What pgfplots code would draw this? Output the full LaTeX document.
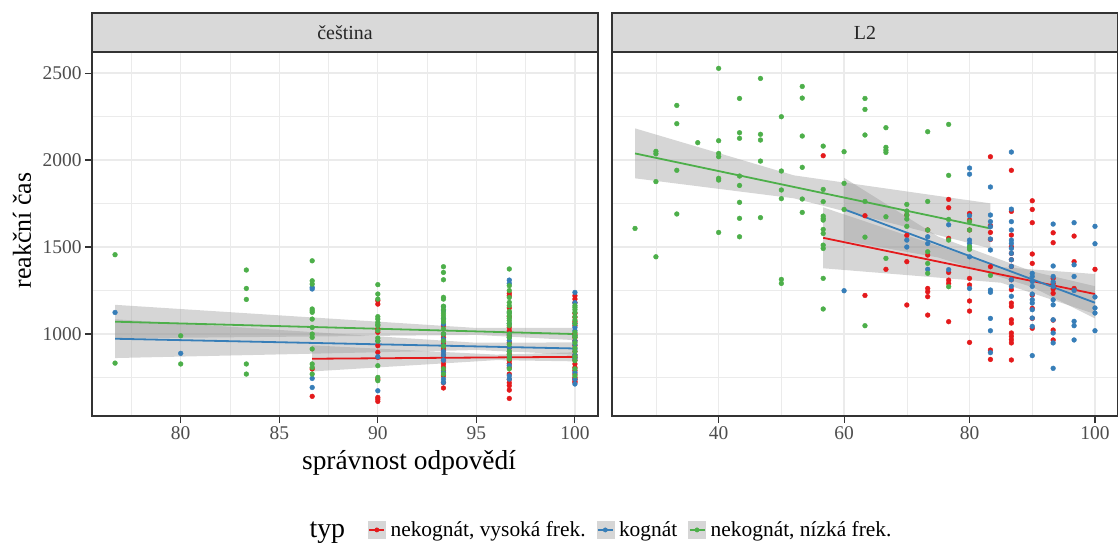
\documentclass[border=0pt]{standalone}
\usepackage{fontspec}
\setmainfont{Liberation Serif}
\usepackage{pgfplots}
\pgfplotsset{compat=1.18}
\definecolor{cR}{HTML}{E41A1C}
\definecolor{cB}{HTML}{377EB8}
\definecolor{cG}{HTML}{4DAF4A}
\definecolor{gridc}{HTML}{EBEBEB}
\definecolor{framec}{HTML}{333333}
\definecolor{tickc}{HTML}{4D4D4D}
\definecolor{stripc}{HTML}{D9D9D9}
\definecolor{bandc}{HTML}{999999}
\definecolor{keybg}{HTML}{D6D6D6}
\newcommand\ft[1]{\fontsize{#1}{#1}\selectfont}
\pgfplotsset{
 panel/.style={
  scale only axis, width=506bp, height=364bp,
  ymin=529, ymax=2621,
  ytick={1000,1500,2000,2500},
  minor ytick={750,1250,1750,2250},
  grid=both,
  major grid style={gridc, line width=1.2bp},
  minor grid style={gridc, line width=0.6bp},
  axis line style={framec, line width=1.1bp},
  tick style={framec, line width=1.1bp},
  major tick length=7bp, minor tick length=0pt,
  tick align=outside,
  xtick pos=bottom, ytick pos=left,
  ticklabel style={font=\ft{19.5}, text=tickc},
  /pgf/number format/assume math mode=true,
  /pgf/number format/1000 sep={},
 },
 pt/.style={only marks, mark=*, mark size=2.4bp, color=#1, mark options={draw=none, fill=#1}},
 bd/.style={draw=none, fill=bandc, fill opacity=0.4},
 fit/.style={color=#1, line width=1.8bp, no marks},
 key/.style={legend image code/.code={
   \fill[keybg] (0bp,-8.5bp) rectangle (17bp,8.5bp);
   \draw[#1, line width=1.5bp] (1bp,0bp) -- (16bp,0bp);
   \fill[#1] (8.5bp,0bp) circle (2.2bp);}},
}
\begin{document}
\begin{tikzpicture}
\useasboundingbox (0,0) rectangle (1118bp,543bp);
% ---------------- left panel
\begin{axis}[panel, name=L, at={(92bp,127bp)}, anchor=south west,
  xmin=75.5, xmax=101.17,
  xtick={80,85,90,95,100}, minor xtick={77.5,82.5,87.5,92.5,97.5},
  xlabel={správnost odpovědí}, ylabel={reakční čas},
  xlabel style={font=\ft{27.5}, at={(axis description cs:0.6265,-0.129)}, anchor=center},
  ylabel style={font=\ft{26}, at={(axis description cs:-0.1383,0.51)}, anchor=center},
  legend style={at={(axis description cs:1.002,-0.313)}, anchor=center, draw=none, fill=none,
    legend columns=4, font=\ft{21.5}, cells={anchor=west},
    /tikz/every odd column/.append style={column sep=3bp},
    /tikz/every even column/.append style={column sep=9bp}},
]
\addlegendimage{empty legend}\addlegendentry{\ft{28}typ\hspace*{12bp}}
\addlegendimage{key=cR}\addlegendentry{nekognát, vysoká frek.}
\addlegendimage{key=cB}\addlegendentry{kognát}
\addlegendimage{key=cG}\addlegendentry{nekognát, nízká frek.}
\addplot[pt=cR, forget plot] coordinates {
(86.67,799)(86.67,642)
(90,1192)(90,1172)(90,1029)(90,1010)(90,933)(90,895)(90,866)(90,741)(90,636)(90,626)(90,613)
(93.33,1048)(93.33,1000)(93.33,981)(93.33,962)(93.33,943)(93.33,920)(93.33,904)(93.33,880)(93.33,866)(93.33,850)(93.33,828)(93.33,810)(93.33,789)(93.33,760)(93.33,720)(93.33,690)
(96.67,1234)(96.67,1220)(96.67,1150)(96.67,1100)(96.67,1038)(96.67,1019)(96.67,990)(96.67,950)(96.67,920)(96.67,885)(96.67,860)(96.67,847)(96.67,830)(96.67,808)(96.67,770)(96.67,740)(96.67,720)(96.67,703)(96.67,678)(96.67,630)
(100,1220)(100,1201)(100,1180)(100,1119)(100,1096)(100,1070)(100,1048)(100,1000)(100,980)(100,962)(100,933)(100,900)(100,880)(100,866)(100,850)(100,828)(100,808)(100,790)(100,770)(100,750)(100,741)(100,730)(100,722)
};
\addplot[pt=cB, forget plot] coordinates {
(76.67,1124)(80,889)(86.67,1268)(86.67,1259)(86.67,745)(86.67,693)(90,960)(90,870)(90,674)
(93.33,1157)(93.33,1134)(93.33,1090)(93.33,1057)(93.33,1000)(93.33,970)(93.33,933)(93.33,900)(93.33,880)(93.33,850)(93.33,780)(93.33,741)(93.33,722)
(96.67,1310)(96.67,1291)(96.67,1124)(96.67,1060)(96.67,1000)(96.67,980)(96.67,962)(96.67,923)(96.67,900)(96.67,870)(96.67,820)(96.67,760)(96.67,741)
(100,1239)(100,1180)(100,1060)(100,1038)(100,1019)(100,990)(100,960)(100,940)(100,914)(100,880)(100,860)(100,780)(100,740)(100,713)
};
\addplot[pt=cG, forget plot] coordinates {
(76.67,1456)(76.67,833)(80,990)(80,828)(83.33,1368)(83.33,1262)(83.33,1199)(83.33,828)(83.33,770)
(86.67,1421)(86.67,1306)(86.67,1287)(86.67,1144)(86.67,1134)(86.67,1125)(86.67,1086)(86.67,1038)(86.67,1000)(86.67,981)(86.67,914)(86.67,828)(86.67,808)(86.67,770)
(90,1284)(90,1230)(90,1201)(90,1100)(90,1086)(90,1067)(90,1055)(90,1048)(90,1020)(90,977)(90,960)(90,818)(90,751)(90,732)
(93.33,1387)(93.33,1354)(93.33,1312)(93.33,1211)(93.33,1201)(93.33,1160)(93.33,1140)(93.33,1120)(93.33,1105)(93.33,1086)(93.33,1070)(93.33,1029)(93.33,1000)(93.33,960)(93.33,930)(93.33,800)(93.33,770)
(96.67,1374)(96.67,1278)(96.67,1250)(96.67,1210)(96.67,1182)(96.67,1163)(96.67,1130)(96.67,1120)(96.67,1105)(96.67,1090)(96.67,1077)(96.67,1060)(96.67,1048)(96.67,1000)(96.67,980)(96.67,940)(96.67,900)(96.67,880)(96.67,856)(96.67,800)
(100,1163)(100,1153)(100,1140)(100,1124)(100,1100)(100,1080)(100,1060)(100,1010)(100,990)(100,981)(100,950)(100,920)(100,900)(100,870)(100,847)(100,800)(100,760)
};
% bands
\addplot[bd, forget plot] coordinates {(86.67,935)(96,882)(100,895)(100,843)(96,850)(86.67,785)};
\addplot[bd, forget plot] coordinates {(76.67,1085)(95,950)(100,952)(100,882)(95,908)(76.67,862)};
\addplot[bd, forget plot] coordinates {(76.67,1168)(95,1035)(100,1035)(100,965)(95,995)(76.67,975)};
\addplot[fit=cR, forget plot] coordinates {(86.67,858)(100,869)};
\addplot[fit=cB, forget plot] coordinates {(76.67,973)(100,917)};
\addplot[fit=cG, forget plot] coordinates {(76.67,1071)(100,1000)};
\end{axis}
% ---------------- right panel
\begin{axis}[panel, name=R, at={(612bp,127bp)}, anchor=south west,
  xmin=23.0, xmax=103.67,
  xtick={40,60,80,100}, minor xtick={30,50,70,90},
  yticklabels={}, ytick style={draw=none},
]
\addplot[pt=cR] coordinates {
(56.67,2025)(63.33,1680)(63.33,1222)(66.67,1372)(70,1684)(70,1567)(70,1416)(70,1167)
(73.33,1598)(73.33,1454)(73.33,1262)(73.33,1243)(73.33,1215)(73.33,1109)
(76.67,1774)(76.67,1726)(76.67,1550)(76.67,1354)(76.67,1310)(76.67,1291)(76.67,1071)
(80,1693)(80,1655)(80,1598)(80,1320)(80,1282)(80,1190)(80,1132)(80,952)
(83.33,2019)(83.33,1623)(83.33,1584)(83.33,1544)(83.33,1387)(83.33,908)(83.33,854)
(86.67,1941)(86.67,1705)(86.67,1569)(86.67,1502)(86.67,1464)(86.67,1427)(86.67,1389)(86.67,1312)(86.67,1255)(86.67,1178)(86.67,1159)(86.67,1082)(86.67,1063)(86.67,1006)(86.67,987)(86.67,968)(86.67,949)(86.67,851)
(90,1766)(90,1716)(90,1640)(90,1460)(90,1406)(90,1224)(90,1148)(90,1090)(90,1033)
(93.33,1582)(93.33,1525)(93.33,1320)(93.33,1290)(93.33,1260)(93.33,1234)(93.33,1080)(93.33,1023)(93.33,966)
(96.67,1563)(96.67,1416)(96.67,1262)(100,1372)
};
\addplot[pt=cB] coordinates {
(60,1249)(70,1540)(70,1500)(73.33,1559)(73.33,1520)(73.33,1372)(76.67,1628)(76.67,1370)
(80,1954)(80,1919)(80,1680)(80,1540)(80,1521)(80,1500)(80,1444)(80,1262)
(83.33,1845)(83.33,1684)(83.33,1646)(83.33,1617)(83.33,1546)(83.33,1483)(83.33,1253)(83.33,1240)(83.33,1090)(83.33,1019)(83.33,893)
(86.67,2046)(86.67,1718)(86.67,1646)(86.67,1598)(86.67,1540)(86.67,1521)(86.67,1492)(86.67,1464)(86.67,1427)(86.67,1389)(86.67,1312)(86.67,1274)(86.67,1217)
(90,1349)(90,1331)(90,1302)(90,1274)(90,1230)(90,1197)(90,1178)(90,1140)(90,1092)(90,1044)(90,876)
(93.33,1632)(93.33,1391)(93.33,1331)(93.33,1300)(93.33,1274)(93.33,1197)(93.33,1168)(93.33,1082)(93.33,1006)(93.33,949)(93.33,803)
(96.67,1640)(96.67,1398)(96.67,1331)(96.67,1250)(96.67,1073)(96.67,1048)(96.67,966)
(100,1619)(100,1519)(100,1213)(100,1150)(100,1121)(100,1019)
};
\addplot[pt=cG] coordinates {
(26.67,1607)(30,2050)(30,2036)(30,1876)(30,1444)(33.33,2314)(33.33,2209)(33.33,1941)(33.33,1690)(36.67,2100)
(40,2527)(40,2111)(40,2038)(40,2019)(40,1895)(40,1885)(40,1584)
(43.33,2354)(43.33,2157)(43.33,2125)(43.33,1908)(43.33,1854)(43.33,1757)(43.33,1665)(43.33,1559)
(46.67,2469)(46.67,2148)(46.67,2115)(46.67,1994)(46.67,1669)
(50,2249)(50,1937)(50,1828)(50,1778)(50,1314)(50,1291)
(53.33,2423)(53.33,2356)(53.33,2138)(53.33,1958)(53.33,1776)(53.33,1699)
(56.67,2080)(56.67,1831)(56.67,1761)(56.67,1678)(56.67,1665)(56.67,1655)(56.67,1601)(56.67,1578)(56.67,1511)(56.67,1492)(56.67,1320)(56.67,1144)
(60,2048)(60,1866)(60,1716)
(63.33,2354)(63.33,2291)(63.33,2144)(63.33,1762)(63.33,1557)(63.33,1048)
(66.67,2186)(66.67,2073)(66.67,2057)(66.67,2044)(66.67,1674)(66.67,1435)
(70,1745)(70,1707)(70,1684)(70,1661)(70,1619)
(73.33,2163)(73.33,1762)(73.33,1598)(73.33,1473)(73.33,1406)(73.33,1349)
(76.67,2205)(76.67,1912)(76.67,1659)(76.67,1540)(76.67,1272)
(80,1646)(80,1598)(80,1502)(80,1487)
(83.33,1337)
};
\addplot[bd] coordinates {(56.67,1728)(85,1385)(100,1345)(100,1115)(85,1295)(56.67,1378)};
\addplot[bd] coordinates {(60,1898)(75,1560)(90,1360)(100,1275)(100,1090)(90,1270)(75,1440)(60,1536)};
\addplot[bd] coordinates {(26.67,2182)(52,1912)(83.33,1751)(83.33,1492)(52,1780)(26.67,1895)};
\addplot[fit=cR] coordinates {(56.67,1553)(100,1230)};
\addplot[fit=cB] coordinates {(60,1717)(100,1180)};
\addplot[fit=cG] coordinates {(26.67,2038)(83.33,1607)};
\end{axis}
% strips
\draw[fill=stripc, draw=framec, line width=1.1bp] (L.north west) rectangle ([yshift=39bp]L.north east);
\node[font=\ft{20}, text=black!85] at ([yshift=19.5bp]L.north) {čeština};
\draw[fill=stripc, draw=framec, line width=1.1bp] (R.north west) rectangle ([yshift=39bp]R.north east);
\node[font=\ft{20}, text=black!85] at ([yshift=19.5bp]R.north) {L2};
\end{tikzpicture}
\end{document}
